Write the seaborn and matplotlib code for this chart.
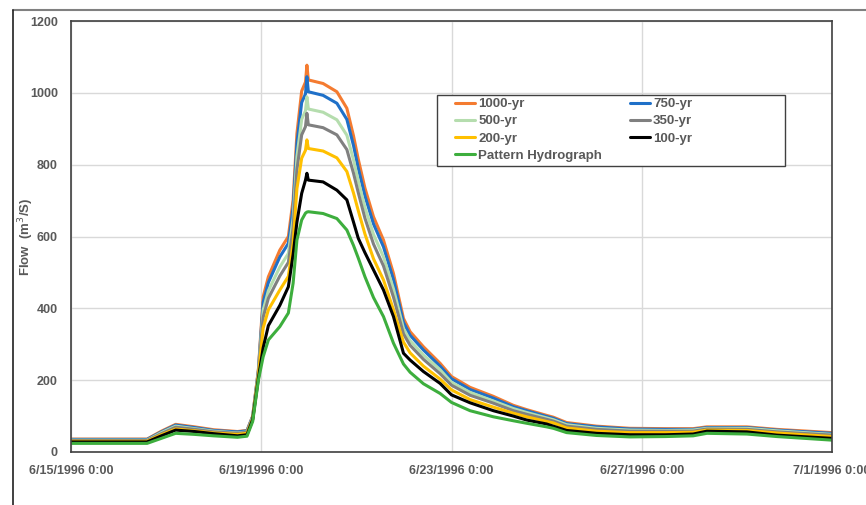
import numpy as np
import pandas as pd
import matplotlib
matplotlib.use("Agg")
import matplotlib.pyplot as plt
from matplotlib.lines import Line2D
from matplotlib.patches import Rectangle
import seaborn as sns

# time in days after 6/15/1996 0:00
days = [0.0, 1.6, 1.9, 2.2, 2.6, 3.0, 3.5, 3.7, 3.82, 3.94,
        4.04, 4.15, 4.39, 4.57, 4.67, 4.75, 4.85, 4.93, 4.96, 4.99,
        5.30, 5.59, 5.80, 5.94, 6.04, 6.18, 6.36, 6.57, 6.78, 6.99,
        7.13, 7.41, 7.76, 8.0, 8.39, 8.88, 9.30, 9.58, 10.0, 10.14,
        10.42, 11.05, 11.75, 12.5, 13.08, 13.37, 14.21, 14.84, 16.0]

q1000 = [36, 36, 58, 77, 70, 62, 57, 60, 100, 230,
         432, 488, 562, 600, 702, 887, 1005, 1030, 1077, 1036,
         1026, 1003, 957, 880, 815, 735, 655, 590, 497, 372,
         335, 293, 247, 210, 180, 155, 130, 118, 102, 97,
         82, 72, 66, 65, 65, 70, 70, 63, 54]
q750 = [35, 35, 56, 75, 68, 60, 56, 59, 99, 227,
        417, 472, 543, 581, 681, 860, 973, 997, 1045, 1003,
        993, 971, 926, 853, 790, 713, 635, 571, 480, 361,
        325, 284, 239, 204, 174, 150, 126, 115, 99, 94,
        79, 70, 64, 63, 63, 68, 68, 61, 52]
q500 = [33, 33, 54, 72, 65, 58, 53, 56, 97, 223,
        395, 449, 515, 553, 651, 822, 926, 950, 989, 955,
        946, 925, 882, 813, 755, 681, 606, 543, 454, 344,
        310, 270, 229, 194, 166, 142, 121, 110, 95, 90,
        76, 66, 61, 60, 61, 66, 66, 59, 49]
q350 = [32, 32, 51, 69, 63, 56, 52, 55, 95, 220,
        375, 428, 490, 528, 623, 786, 883, 906, 943, 911,
        903, 883, 842, 776, 722, 651, 579, 518, 431, 329,
        297, 258, 218, 186, 158, 136, 115, 105, 91, 86,
        72, 63, 58, 58, 58, 64, 63, 56, 47]
q200 = [30, 30, 48, 64, 59, 53, 49, 52, 92, 214,
        345, 396, 451, 489, 581, 733, 818, 840, 869, 845,
        838, 819, 781, 721, 672, 607, 538, 479, 396, 306,
        276, 239, 203, 173, 146, 125, 108, 98, 85, 81,
        67, 58, 54, 54, 55, 61, 60, 53, 43]
q100 = [28, 28, 45, 61, 57, 51, 45, 48, 90, 205,
        290, 352, 408, 460, 550, 640, 720, 757, 776, 757,
        752, 729, 702, 640, 595, 555, 507, 451, 377, 275,
        256, 224, 191, 159, 137, 115, 100, 89, 78, 72,
        60, 52, 48, 48, 50, 58, 56, 47, 38]
qpattern = [24, 24, 38, 52, 49, 45, 41, 44, 85, 200,
            265, 312, 349, 387, 470, 590, 646, 665, 668, 669,
            664, 650, 618, 575, 540, 488, 430, 377, 303, 245,
            222, 190, 163, 138, 115, 98, 87, 80, 70, 66,
            54, 46, 42, 43, 45, 52, 50, 43, 33]

series_names = ["1000-yr", "750-yr", "500-yr", "350-yr", "200-yr", "100-yr", "Pattern Hydrograph"]
series_vals = [q1000, q750, q500, q350, q200, q100, qpattern]
colors = ["#F47B30", "#1F70C8", "#B5DDAE", "#808080", "#FFC000", "#000000", "#3DAE3D"]

tick_dates = ["1996-06-15", "1996-06-19", "1996-06-23", "1996-06-27", "1996-07-01"]
tick_labels = ["6/15/1996 0:00", "6/19/1996 0:00", "6/23/1996 0:00", "6/27/1996 0:00", "7/1/1996 0:00"]
y_ticks = [0, 200, 400, 600, 800, 1000, 1200]

start = pd.Timestamp("1996-06-15")
times = [start + pd.Timedelta(days=d) for d in days]
rows = []
for name, vals in zip(series_names, series_vals):
    for t, v in zip(times, vals):
        rows.append({"time": t, "flow": v, "series": name})
df = pd.DataFrame(rows)

sns.set_style("white")
plt.rcParams['font.family'] = ['Liberation Sans', 'DejaVu Sans']

fig = plt.figure(figsize=(8.66, 5.05), dpi=100)
ax = fig.add_axes([71/866, 53/505, 761/866, 431/505])

sns.lineplot(data=df, x="time", y="flow", hue="series", hue_order=series_names,
             palette=dict(zip(series_names, colors)), linewidth=2.2, sort=False,
             estimator=None, ax=ax, legend=False)

ax.set_xlim(pd.Timestamp(tick_dates[0]), pd.Timestamp(tick_dates[-1]))
ax.set_ylim(0, 1200)
ax.set_xticks([pd.Timestamp(d) for d in tick_dates])
ax.set_xticklabels(tick_labels)
ax.set_yticks(y_ticks)
ax.set_yticklabels([str(v) for v in y_ticks])
ax.tick_params(axis='both', length=0, labelsize=9, labelcolor="#595959")
for lab in ax.get_xticklabels() + ax.get_yticklabels():
    lab.set_fontweight("bold")
ax.tick_params(axis='x', pad=9)
ax.tick_params(axis='y', pad=9.5)
ax.grid(True, color="#D9D9D9", linewidth=1)
ax.set_axisbelow(True)
for s in ax.spines.values():
    s.set_visible(True)
    s.set_color("#404040")
    s.set_linewidth(1.2)
ax.set_xlabel("")
ax.set_ylabel("Flow  (m$^3$/S)", fontsize=9.5, fontweight="bold", color="#595959")
ax.yaxis.set_label_coords((36-71)/761, 0.5)

# legend box
box = Rectangle(((437-71)/761, (452-166)/431), (785-437)/761, (166-95)/431,
                transform=ax.transAxes, facecolor="white", edgecolor="#404040",
                linewidth=1.0, zorder=5)
ax.add_patch(box)

handles = [Line2D([0], [0], color=c, lw=2.2) for c in colors]
col1 = [0, 2, 4, 6]
col2 = [1, 3, 5]
leg_kw = dict(loc="upper left", frameon=False, borderaxespad=0, borderpad=0,
              handlelength=1.55, handletextpad=0.2, labelspacing=0.38,
              prop={"size": 9.5, "weight": "bold"}, labelcolor="#595959")
leg1 = ax.legend([handles[i] for i in col1], [series_names[i] for i in col1],
                 bbox_to_anchor=((455-71)/761, (452-98)/431), **leg_kw)
leg1.set_zorder(6)
ax.add_artist(leg1)
leg2 = ax.legend([handles[i] for i in col2], [series_names[i] for i in col2],
                 bbox_to_anchor=((630-71)/761, (452-98)/431), **leg_kw)
leg2.set_zorder(6)

# outer chart frame lines
fig.add_artist(Line2D([13/866, 1.0], [1 - 10/505, 1 - 10/505], transform=fig.transFigure,
                      color="#808080", lw=1.5))
fig.add_artist(Line2D([13/866, 13/866], [0, 1 - 10/505], transform=fig.transFigure,
                      color="#202020", lw=1.2))

fig.savefig("out.png", dpi=100)
